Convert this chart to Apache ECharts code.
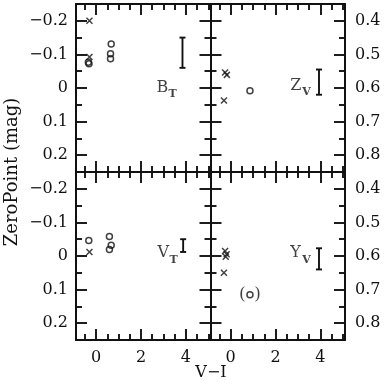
<!DOCTYPE html>
<html>
<head>
<meta charset="utf-8">
<script src="https://cdn.jsdelivr.net/npm/echarts@6/dist/echarts.min.js"></script>
<style>html,body{margin:0;padding:0;background:#fff}#c{width:386px;height:388px}</style>
</head>
<body>
<div id="c"></div>
<script>
// ---- data ----
const xMin = -0.9, xMax = 5.1;
const xMajorTicks = [0, 2, 4];
const xMinorTicks = [-0.5, 0.5, 1, 1.5, 2.5, 3, 3.5, 4.5, 5];
const xTickLabels = [0, 2, 4];
const zpRange = [-0.25, 0.25];
const zpMajorTicks = [-0.2, -0.1, 0, 0.1, 0.2];
const zpMinorTicks = [-0.15, -0.05, 0.05, 0.15];
const rightRange = [0.35, 0.85];
const rightMajorTicks = [0.4, 0.5, 0.6, 0.7, 0.8];
const rightMinorTicks = [0.45, 0.55, 0.65, 0.75];

const panelNames = ['B', 'Z', 'V', 'Y'];
const panelSubs = ['T', 'V', 'T', 'V'];
const panelLabelPos = [[2.67, 0.0], [2.64, 0.593], [2.71, -0.008], [2.64, 0.592]];

const bCross = [[-0.3, -0.2], [-0.3, -0.092]];
const bCircle = [[-0.35, -0.077], [-0.32, -0.072], [0.67, -0.131], [0.64, -0.102], [0.64, -0.087]];
const bErr = [[3.85, -0.15, -0.06]];

const zCross = [[-0.25, 0.554], [-0.17, 0.561], [-0.3, 0.637]];
const zCircle = [[0.86, 0.608]];
const zErr = [[3.94, 0.545, 0.62]];

const vCross = [[-0.3, -0.012]];
const vCircle = [[-0.33, -0.046], [0.59, -0.058], [0.67, -0.032], [0.59, -0.019]];
const vErr = [[3.88, -0.05, -0.012]];

const yCross = [[-0.25, 0.585], [-0.18, 0.595], [-0.22, 0.602], [-0.3, 0.65]];
const yCircleBracketed = [[0.86, 0.715]];
const yErr = [[3.94, 0.577, 0.64]];

// ---- layout ----
const FONT = 'DejaVu Serif';
const INK = '#111';
const L = 76, T = 4, W = 134.5, H = 168;
const grids = [
  {left: L, top: T, width: W, height: H},
  {left: L + W, top: T, width: W, height: H},
  {left: L, top: T + H, width: W, height: H},
  {left: L + W, top: T + H, width: W, height: H}
];
const isRight = [false, true, false, true];
const isBottom = [false, false, true, true];

const xAxes = [], yAxes = [];
const lineSt = {color: INK, width: 1.9};
function fmtZP(v) { if (Math.abs(v) < 1e-9) return '0'; return (v < 0 ? '\u2212' : '') + Math.abs(v).toFixed(1); }

grids.forEach((g, i) => {
  ['bottom', 'top'].forEach(pos => {
    xAxes.push({
      gridIndex: i, type: 'value', min: xMin, max: xMax, position: pos,
      axisLine: {show: true, onZero: false, lineStyle: {color: INK, width: 2}},
      axisTick: {show: true, inside: true, length: 11, customValues: xMajorTicks, lineStyle: lineSt},
      axisLabel: {show: pos === 'bottom' && isBottom[i], customValues: xTickLabels, margin: 10,
        fontFamily: FONT, fontSize: 16, color: INK},
      splitLine: {show: false}
    });
    xAxes.push({
      gridIndex: i, type: 'value', min: xMin, max: xMax, position: pos,
      axisLine: {show: false, onZero: false},
      axisTick: {show: true, inside: true, length: 6, customValues: xMinorTicks, lineStyle: lineSt},
      axisLabel: {show: false}, splitLine: {show: false}
    });
  });
  const rng = isRight[i] ? rightRange : zpRange;
  const maj = isRight[i] ? rightMajorTicks : zpMajorTicks;
  const mnr = isRight[i] ? rightMinorTicks : zpMinorTicks;
  ['left', 'right'].forEach(pos => {
    const showLab = (pos === 'left' && !isRight[i]) || (pos === 'right' && isRight[i]);
    yAxes.push({
      gridIndex: i, type: 'value', min: rng[0], max: rng[1], inverse: true, position: pos,
      axisLine: {show: true, onZero: false, lineStyle: {color: INK, width: 2}},
      axisTick: {show: true, inside: true, length: 11, customValues: maj, lineStyle: lineSt},
      axisLabel: {show: showLab, customValues: maj, margin: pos === 'left' ? 8 : 10,
        fontFamily: FONT, fontSize: 16, color: INK,
        formatter: isRight[i] ? (v => v.toFixed(1)) : fmtZP},
      splitLine: {show: false}
    });
    yAxes.push({
      gridIndex: i, type: 'value', min: rng[0], max: rng[1], inverse: true, position: pos,
      axisLine: {show: false, onZero: false},
      axisTick: {show: true, inside: true, length: 6, customValues: mnr, lineStyle: lineSt},
      axisLabel: {show: false}, splitLine: {show: false}
    });
  });
});

const crossPath = 'path://M0,0L10,10M10,0L0,10';
const crossSets = [bCross, zCross, vCross, yCross];
const circleSets = [bCircle, zCircle, vCircle, yCircleBracketed];
const errSets = [bErr, zErr, vErr, yErr];

const series = [];
for (let i = 0; i < 4; i++) {
  const xi = i * 4, yi = i * 4;
  series.push({
    type: 'scatter', xAxisIndex: xi, yAxisIndex: yi, data: crossSets[i],
    symbol: crossPath, symbolSize: 6, silent: true,
    itemStyle: {color: 'transparent', borderColor: INK, borderWidth: 1.5}
  });
  series.push({
    type: 'scatter', xAxisIndex: xi, yAxisIndex: yi, data: circleSets[i],
    symbol: 'circle', symbolSize: 6, silent: true,
    itemStyle: {color: 'rgba(255,255,255,0)', borderColor: INK, borderWidth: 1.5},
    label: i === 3 ? {show: true, position: 'inside', formatter: '(\u2002)', fontFamily: FONT,
      fontSize: 17, color: INK} : {show: false}
  });
  series.push({
    type: 'custom', xAxisIndex: xi, yAxisIndex: yi, data: errSets[i], silent: true,
    renderItem: function (params, api) {
      const x = api.value(0);
      const p1 = api.coord([x, api.value(1)]);
      const p2 = api.coord([x, api.value(2)]);
      const st = {stroke: INK, lineWidth: 1.9};
      return {type: 'group', children: [
        {type: 'line', shape: {x1: p1[0], y1: p1[1], x2: p2[0], y2: p2[1]}, style: st},
        {type: 'line', shape: {x1: p1[0] - 3, y1: p1[1], x2: p1[0] + 3, y2: p1[1]}, style: st},
        {type: 'line', shape: {x1: p2[0] - 3, y1: p2[1], x2: p2[0] + 3, y2: p2[1]}, style: st}
      ]};
    }
  });
  series.push({
    type: 'scatter', xAxisIndex: xi, yAxisIndex: yi, data: [panelLabelPos[i]], silent: true,
    symbolSize: 1, itemStyle: {color: 'transparent'},
    label: {show: true, position: 'right', distance: 0, formatter: panelNames[i],
      fontFamily: FONT, fontSize: 16, color: INK}
  });
  series.push({
    type: 'scatter', xAxisIndex: xi, yAxisIndex: yi, data: [panelLabelPos[i]], silent: true,
    symbolSize: 1, itemStyle: {color: 'transparent'},
    label: {show: true, position: 'right', distance: 0, offset: [12, 6.5], formatter: panelSubs[i],
      fontFamily: FONT, fontSize: 11, fontWeight: 'bold', color: INK}
  });
}

const chart = echarts.init(document.getElementById('c'), null, {renderer: 'canvas'});
chart.setOption({
  animation: false,
  backgroundColor: '#fff',
  grid: grids,
  xAxis: xAxes,
  yAxis: yAxes,
  series: series,
  graphic: [
    {type: 'text', x: 12, y: 172, rotation: Math.PI / 2,
      style: {text: 'ZeroPoint (mag)', font: '18px "DejaVu Serif"', fill: INK, align: 'center', verticalAlign: 'middle'}},
    {type: 'text', x: 211, y: 373,
      style: {text: 'V\u2212I', font: '16px "DejaVu Serif"', fill: INK, align: 'center', verticalAlign: 'middle'}}
  ]
});
</script>
</body>
</html>
